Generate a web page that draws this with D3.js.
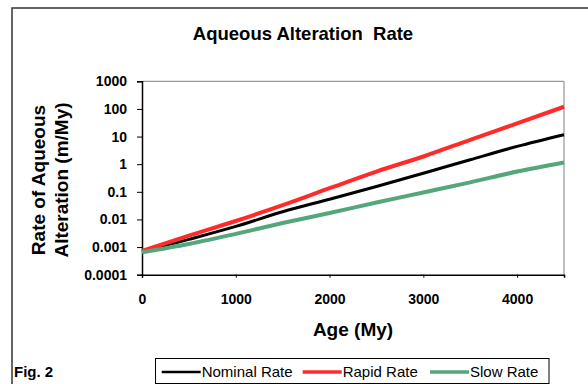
<!DOCTYPE html>
<html>
<head>
<meta charset="utf-8">
<script src="https://d3js.org/d3.v7.min.js"></script>
<style>
body { margin: 0; background: #fff; }
svg { font-family: Arial, "Liberation Sans", sans-serif; }
</style>
</head>
<body>
<svg width="588" height="384"></svg>
<script>
// ages (My) and rates (m/My)
var ages = [0, 500, 1000, 1500, 2000, 2500, 3000, 3500, 4000, 4500];
var nominalRate = [0.00068, 0.0019, 0.0056, 0.019, 0.054, 0.155, 0.47, 1.45, 4.4, 11.7];
var rapidRate = [0.00072, 0.0026, 0.0088, 0.033, 0.135, 0.54, 1.9, 7.6, 30, 120];
var slowRate = [0.00065, 0.0013, 0.003, 0.0074, 0.017, 0.041, 0.095, 0.22, 0.54, 1.15];
var yTicks = [0.0001, 0.001, 0.01, 0.1, 1, 10, 100, 1000];
var xTicks = [0, 1000, 2000, 3000, 4000];

var series = [
  {name: "Nominal Rate", values: nominalRate, color: "#000000", width: 3},
  {name: "Rapid Rate", values: rapidRate, color: "#ff2b2b", width: 4},
  {name: "Slow Rate", values: slowRate, color: "#55a67a", width: 4}
];

var svg = d3.select("svg");

// outer frame (runs off the right and bottom edges)
svg.append("rect")
  .attr("x", 12).attr("y", 8).attr("width", 600).attr("height", 400)
  .attr("fill", "none").attr("stroke", "#333").attr("stroke-width", 1.5);

var x = d3.scaleLinear().domain([0, 4500]).range([142, 564]);
var y = d3.scaleLog().domain([0.0001, 1000]).range([274.7, 81.3]);

// plot area border (top and right in grey)
svg.append("path")
  .attr("d", "M142,81.3H564V274.7")
  .attr("fill", "none").attr("stroke", "#808080").attr("stroke-width", 1);

var fmt = function(d) { return d >= 1 ? d3.format("d")(d) : String(+d.toPrecision(1)); };

var ya = svg.append("g")
  .attr("transform", "translate(142,0)")
  .call(d3.axisLeft(y).tickValues(yTicks).tickFormat(fmt).tickSize(5).tickPadding(10));
ya.select(".domain").attr("stroke", "#000").attr("stroke-width", 1.5);

var xa = svg.append("g")
  .attr("transform", "translate(0,274.7)")
  .call(d3.axisBottom(x).tickValues(xTicks).tickFormat(d3.format("d")).tickSize(3).tickPadding(16));
xa.select(".domain").attr("stroke", "#000").attr("stroke-width", 1.5);

svg.selectAll(".tick text")
  .attr("font-family", "Arial, 'Liberation Sans', sans-serif")
  .attr("font-size", 14).attr("font-weight", "bold").attr("fill", "#000");
svg.selectAll(".tick line").attr("stroke", "#000");

var line = d3.line()
  .x(function(d, i) { return x(ages[i]); })
  .y(function(d) { return y(d); })
  .curve(d3.curveMonotoneX);

svg.selectAll(".series").data(series).enter().append("path")
  .attr("class", "series")
  .attr("d", function(s) { return line(s.values); })
  .attr("fill", "none")
  .attr("stroke", function(s) { return s.color; })
  .attr("stroke-width", function(s) { return s.width; });

// title
svg.append("text")
  .attr("x", 303).attr("y", 40).attr("text-anchor", "middle")
  .attr("font-size", 18.5).attr("font-weight", "bold")
  .text("Aqueous Alteration\u00a0 Rate");

// axis titles
svg.append("text")
  .attr("x", 353).attr("y", 336).attr("text-anchor", "middle")
  .attr("font-size", 19).attr("font-weight", "bold")
  .text("Age (My)");

var yl = svg.append("text")
  .attr("transform", "translate(45,180) rotate(-90)")
  .attr("text-anchor", "middle")
  .attr("font-size", 19).attr("font-weight", "bold");
yl.append("tspan").attr("x", 0).attr("y", 0).text("Rate of Aqueous");
yl.append("tspan").attr("x", 0).attr("y", 23).text("Alteration (m/My)");

svg.append("text")
  .attr("x", 14).attr("y", 377)
  .attr("font-size", 15).attr("font-weight", "bold")
  .text("Fig. 2");

// legend
svg.append("rect")
  .attr("x", 155.5).attr("y", 358.5).attr("width", 393.5).attr("height", 25)
  .attr("fill", "#fff").attr("stroke", "#000").attr("stroke-width", 1);

var legX = [161.7, 302.7, 430];
var lg = svg.selectAll(".leg").data(series).enter().append("g")
  .attr("class", "leg")
  .attr("transform", function(s, i) { return "translate(" + legX[i] + ",372)"; });
lg.append("line")
  .attr("x1", 0).attr("x2", 39).attr("y1", 0).attr("y2", 0)
  .attr("stroke", function(s) { return s.color; })
  .attr("stroke-width", function(s) { return s.width - 0.5; });
lg.append("text")
  .attr("x", 40).attr("y", 5.3)
  .attr("font-size", 15)
  .text(function(s) { return s.name; });
</script>
</body>
</html>
